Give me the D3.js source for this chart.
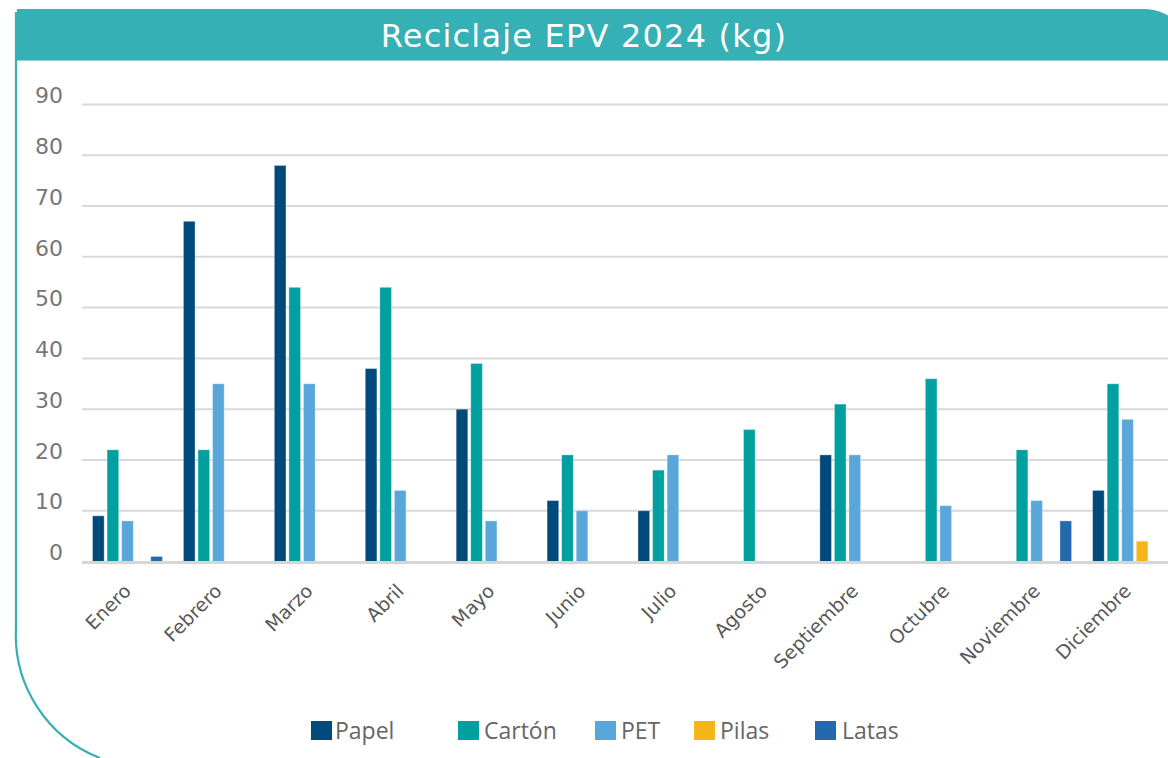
<!DOCTYPE html>
<html>
<head>
<meta charset="utf-8">
<script src="https://cdn.jsdelivr.net/npm/d3@7"></script>
<style>
  html, body { margin: 0; padding: 0; background: #fff; }
  svg { display: block; }
</style>
</head>
<body>
<svg id="chart" width="1168" height="758"></svg>
<script>
// Monthly recycling totals (kg) per material
const months = ["Enero", "Febrero", "Marzo", "Abril", "Mayo", "Junio", "Julio", "Agosto", "Septiembre", "Octubre", "Noviembre", "Diciembre"];
const materials = ["Papel", "Cartón", "PET", "Pilas", "Latas"];
const papel  = [9, 67, 78, 38, 30, 12, 10, 0, 21, 0, 0, 14];
const carton = [22, 22, 54, 54, 39, 21, 18, 26, 31, 36, 22, 35];
const pet    = [8, 35, 35, 14, 8, 10, 21, 0, 21, 11, 12, 28];
const pilas  = [0, 0, 0, 0, 0, 0, 0, 0, 0, 0, 0, 4];
const latas  = [1, 0, 0, 0, 0, 0, 0, 0, 0, 0, 8, 0];
const yTicks = [0, 10, 20, 30, 40, 50, 60, 70, 80, 90];
const title = "Reciclaje EPV 2024 (kg)";

const seriesValues = [papel, carton, pet, pilas, latas];
const colors = ["#004a7b", "#009fa0", "#59a7da", "#f5b51b", "#2469ae"];

const svg = d3.select("#chart");
const W = 1168, H = 758;
const teal = "#35b0b4";
const geo = "'DejaVu Sans', 'Open Sans', sans-serif";

// Card outline: left edge with a rounded bottom-left corner
svg.append("path")
  .attr("d", "M16,12 L16,628 A132,132 0 0 0 100,758")
  .attr("fill", "none")
  .attr("stroke", teal)
  .attr("stroke-width", 2.2);

// Header band with rounded top-right corner
const hx0 = 17, hy0 = 9, hy1 = 60, hr = 48, hx1 = 1192;
svg.append("path")
  .attr("d", `M${hx0},${hy0} L${hx1 - hr},${hy0} A${hr},${hr} 0 0 1 ${hx1},${hy0 + hr} L${hx1},${hy1} L${hx0},${hy1} Z`)
  .attr("fill", teal);
svg.append("line")
  .attr("x1", hx0).attr("x2", W).attr("y1", hy1 + 0.5).attr("y2", hy1 + 0.5)
  .attr("stroke", "#8fd3d5").attr("stroke-width", 1);

svg.append("text")
  .attr("x", 584).attr("y", 47)
  .attr("text-anchor", "middle")
  .attr("fill", "#ffffff")
  .attr("font-family", geo)
  .attr("font-size", 32)
  .attr("letter-spacing", 1.2)
  .text(title);

// Scales
const plotLeft = 82, plotRight = 1173;
const y = d3.scaleLinear().domain([0, 90]).range([561.5, 104.5]);
const x0 = d3.scaleBand().domain(months).range([plotLeft, plotRight]).padding(0);
const x1 = d3.scaleBand().domain(materials)
  .range([10.5, x0.bandwidth() - 10.5])
  .paddingInner(0.2).paddingOuter(0);

// Gridlines and value axis labels
const yAxis = d3.axisLeft(y).tickValues(yTicks).tickSize(0).tickPadding(0);
const yg = svg.append("g").attr("transform", `translate(${plotLeft},0)`).call(yAxis);
yg.select(".domain").remove();
yg.selectAll("text")
  .attr("x", -19)
  .attr("dy", "-0.08em")
  .attr("fill", "#777777")
  .attr("font-family", geo)
  .attr("font-size", 22);

svg.append("g").selectAll("line")
  .data(yTicks.filter(d => d > 0))
  .join("line")
  .attr("x1", plotLeft).attr("x2", W)
  .attr("y1", d => y(d)).attr("y2", d => y(d))
  .attr("stroke", "#d9d9d9").attr("stroke-width", 2);

// Grouped bars
const groups = svg.append("g").selectAll("g")
  .data(months)
  .join("g")
  .attr("transform", d => `translate(${x0(d)},0)`);

groups.selectAll("rect")
  .data((m, i) => materials.map((s, k) => ({ s, k, v: seriesValues[k][i] })).filter(d => d.v > 0))
  .join("rect")
  .attr("x", d => x1(d.s))
  .attr("width", x1.bandwidth())
  .attr("y", d => y(d.v))
  .attr("height", d => y(0) - y(d.v))
  .attr("fill", d => colors[d.k])
  .attr("stroke", "#ffffff")
  .attr("stroke-opacity", 0.35)
  .attr("stroke-width", 1);

// Baseline
svg.append("line")
  .attr("x1", plotLeft).attr("x2", W)
  .attr("y1", y(0) + 1).attr("y2", y(0) + 1)
  .attr("stroke", "#d6d6d6").attr("stroke-width", 3);

// Category axis labels, rotated
const xAxis = d3.axisBottom(x0).tickSize(0).tickPadding(0);
const xg = svg.append("g").attr("transform", `translate(0,${y(0)})`).call(xAxis);
xg.select(".domain").remove();
xg.selectAll("text")
  .attr("fill", "#595959")
  .attr("font-family", geo)
  .attr("font-size", 19)
  .attr("text-anchor", "end")
  .attr("dy", "0.35em")
  .attr("transform", "translate(0,26) rotate(-45)");

// Legend
const legendItems = [
  { label: "Papel", sx: 311, tx: 335 },
  { label: "Cartón", sx: 458, tx: 484 },
  { label: "PET", sx: 595, tx: 621 },
  { label: "Pilas", sx: 694, tx: 720 },
  { label: "Latas", sx: 815, tx: 842 }
];
const lg = svg.append("g");
legendItems.forEach((d, i) => {
  lg.append("rect")
    .attr("x", d.sx).attr("y", 721)
    .attr("width", 21).attr("height", 19)
    .attr("fill", colors[i]);
  lg.append("text")
    .attr("x", d.tx).attr("y", 739)
    .attr("fill", "#666666")
    .attr("font-family", "'Open Sans', sans-serif")
    .attr("font-size", 23)
    .text(d.label);
});
</script>
</body>
</html>
